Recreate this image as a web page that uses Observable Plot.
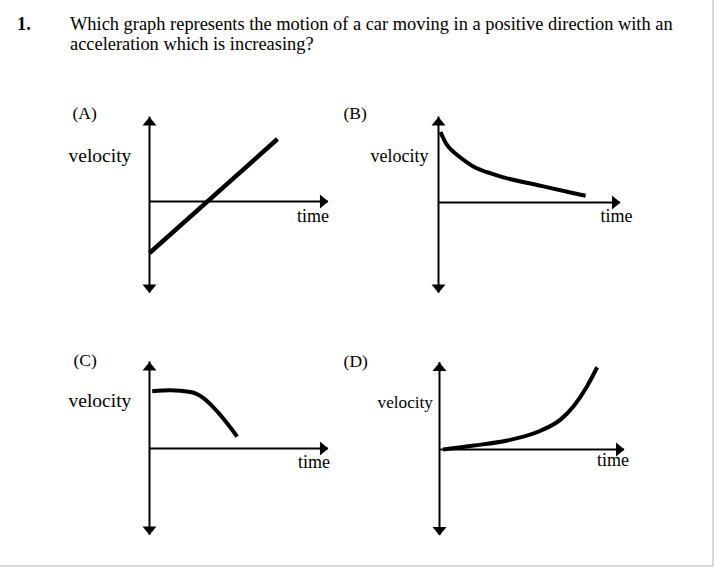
<!DOCTYPE html>
<html>
<head>
<meta charset="utf-8">
<script src="https://cdn.jsdelivr.net/npm/d3@7"></script>
<script src="https://cdn.jsdelivr.net/npm/@observablehq/plot@0.6"></script>
<style>
  html, body { margin: 0; padding: 0; background: #fff; }
  #page {
    position: relative; width: 712px; height: 565px;
    border-right: 2px solid #d9d9d9; border-bottom: 2px solid #d9d9d9;
    overflow: hidden; background: #fff; color: #000;
    font-family: "Liberation Serif", "Times New Roman", serif;
  }
  .q { position: absolute; font-size: 18.4px; line-height: 20px; white-space: nowrap; }
  .panel { position: absolute; }
</style>
</head>
<body>
<div id="page">
  <div class="q" style="left:17px; top:14.4px; font-weight:bold;">1.</div>
  <div class="q" id="question" style="left:70px; top:14.4px;"></div>
</div>
<script>
// ---------- text ----------
const questionLines = [
  "Which graph represents the motion of a car moving in a positive direction with an",
  "acceleration which is increasing?"
];
const panelNames = ["(A)", "(B)", "(C)", "(D)"];
const yAxisLabel = "velocity";
const xAxisLabel = "time";

// ---------- axis extents (data units: time, velocity) ----------
const axisTop    = [4.69, 4.75, 4.81, 4.83];
const axisBottom = [-5.08, -5.03, -4.81, -4.78];
const axisRight  = [9.94, 10.11, 9.94, 10.28];

// ---------- curves (time, velocity) ----------
const timeA = [0, 7.11];
const velA  = [-2.86, 3.47];

const timeB = [0.11, 0.48, 1.04, 1.96, 2.89, 3.81, 5.67, 7.52, 8.17];
const velB  = [3.92, 3.19, 2.64, 1.99, 1.62, 1.34, 0.93, 0.51, 0.38];

const timeC = [0.15, 1.17, 2.28, 3.02, 3.76, 4.31, 4.87];
const velC  = [3.18, 3.24, 3.14, 2.79, 2.06, 1.40, 0.66];

const timeD = [0.2, 1.91, 3.76, 5.61, 6.72, 7.46, 8.2, 8.76];
const velD  = [0.0, 0.22, 0.5, 1.04, 1.66, 2.42, 3.52, 4.57];

const curveTimes = [timeA, timeB, timeC, timeD];
const curveVels  = [velA, velB, velC, velD];
const curveKinds = ["linear", "natural", "monotone-x", "monotone-x"];

// ---------- layout (not data) ----------
const panelLeft = [41, 330, 41, 331];
const panelTop  = [93, 94, 340, 341];
// label anchor positions in each panel's data space: [t, v]
const nameAt     = [[-4.28, 4.56], [-5.28, 4.64], [-4.22, 4.58], [-5.33, 4.61]];
const velocityAt = [[-4.5, 2.22], [-3.78, 2.25], [-4.5, 2.31], [-3.44, 2.33]];
const timeAt     = [[8.2, -1.12], [9.0, -1.08], [8.25, -1.08], [8.75, -0.94]];
const velocitySize = [19.5, 18, 19.5, 17.2];

const FONT = "Liberation Serif, Times New Roman, serif";

document.getElementById("question").innerHTML = questionLines.join("<br>");

// arrowhead symbols: tip at the anchor point
const arrowUp    = { draw(c) { c.moveTo(0, 0); c.lineTo(7, 8.5); c.lineTo(-7, 8.5); c.closePath(); } };
const arrowDown  = { draw(c) { c.moveTo(0, 0); c.lineTo(7, -8.5); c.lineTo(-7, -8.5); c.closePath(); } };
const arrowRight = { draw(c) { c.moveTo(0, 0); c.lineTo(-8.5, 7); c.lineTo(-8.5, -7); c.closePath(); } };

const page = document.getElementById("page");

for (let i = 0; i < 4; i++) {
  const curve = curveTimes[i].map((t, j) => ({ t, v: curveVels[i][j] }));
  const top = axisTop[i], bottom = axisBottom[i], right = axisRight[i];
  const txt = (s, at, size) => Plot.text([s], {
    x: at[0], y: at[1], text: d => d, textAnchor: "start", lineAnchor: "bottom",
    fontSize: size, fontFamily: FONT, fill: "black"
  });
  const chart = Plot.plot({
    width: 324, height: 216, margin: 0,
    x: { domain: [-6, 12], axis: null },
    y: { domain: [-6, 6], axis: null },
    style: { background: "transparent", overflow: "visible" },
    marks: [
      Plot.ruleX([0], { y1: bottom, y2: top, stroke: "black", strokeWidth: 2 }),
      Plot.ruleY([0], { x1: 0, x2: right, stroke: "black", strokeWidth: 2 }),
      Plot.dot([{ t: 0, v: top }], { x: "t", y: "v", symbol: arrowUp, fill: "black", stroke: "none" }),
      Plot.dot([{ t: 0, v: bottom }], { x: "t", y: "v", symbol: arrowDown, fill: "black", stroke: "none" }),
      Plot.dot([{ t: right, v: 0 }], { x: "t", y: "v", symbol: arrowRight, fill: "black", stroke: "none" }),
      Plot.line(curve, { x: "t", y: "v", curve: curveKinds[i], stroke: "black",
        strokeWidth: i === 0 ? 4.5 : 4, strokeLinecap: "butt" }),
      txt(panelNames[i], nameAt[i], 17.5),
      txt(yAxisLabel, velocityAt[i], velocitySize[i]),
      txt(xAxisLabel, timeAt[i], 18)
    ]
  });
  chart.classList.add("panel");
  chart.style.left = panelLeft[i] + "px";
  chart.style.top = panelTop[i] + "px";
  page.appendChild(chart);
}
</script>
</body>
</html>
